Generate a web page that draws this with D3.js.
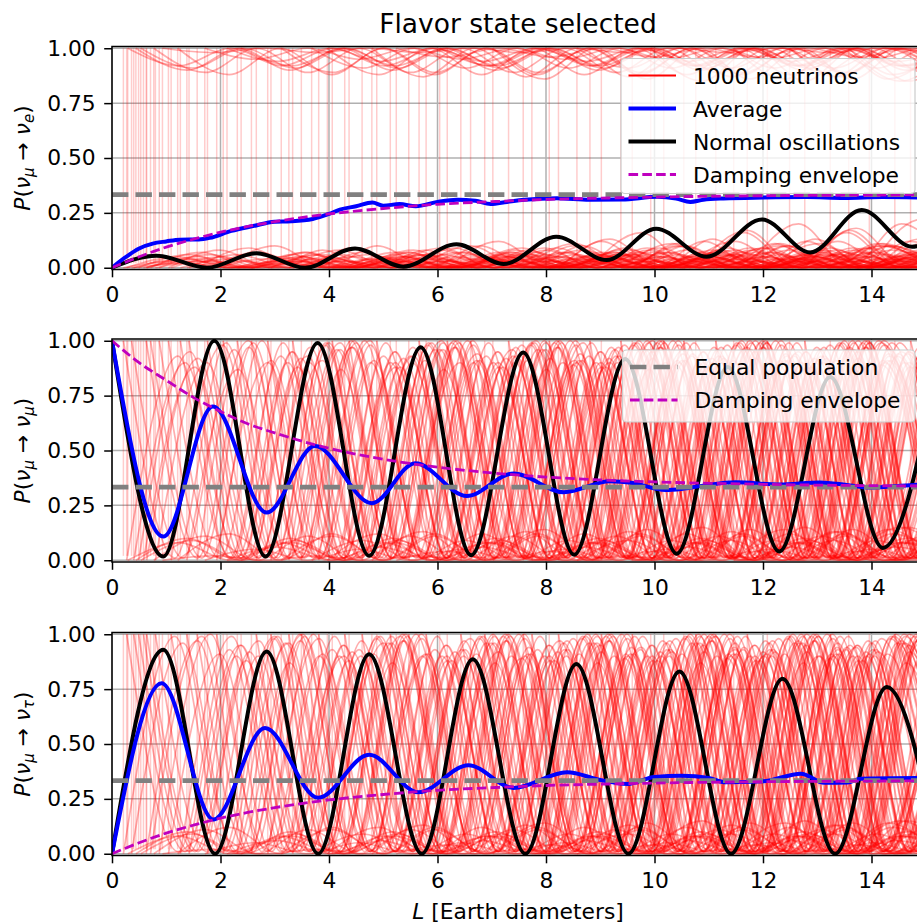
<!DOCTYPE html>
<html>
<head>
<meta charset="utf-8">
<script src="https://cdn.jsdelivr.net/npm/d3@7"></script>
<style>
  body { margin: 0; background: #fff; }
  svg { display: block; font-family: "DejaVu Sans", sans-serif; }
</style>
</head>
<body>
<svg id="chart" width="917" height="923"></svg>
<script>
// ---- data ----
const xTicks = [0, 2, 4, 6, 8, 10, 12, 14];
const yTicks = [0, 0.25, 0.5, 0.75, 1.0];
const equalPopulation = 0.333;
const oscHalf = 0.947;          // half period of the oscillation (L units)
const meshTrough = 0.01;

// normal (undamped) oscillations: peaks and troughs
const normalE = [[0,0],[0.82,0.055],[1.75,0.0],[2.66,0.066],[3.56,0.0],[4.48,0.088],[5.37,0.005],[6.35,0.107],[7.22,0.017],[8.19,0.141],[9.12,0.035],[10.03,0.178],[10.96,0.05],[11.98,0.22],[12.87,0.07],[13.82,0.263],[14.75,0.096],[15.7,0.3]];
const normalM = [[0,1],[0.946,0.017],[1.886,1.0],[2.83,0.017],[3.79,0.99],[4.74,0.02],[5.69,0.97],[6.62,0.023],[7.58,0.947],[8.52,0.025],[9.46,0.917],[10.41,0.03],[11.35,0.88],[12.3,0.04],[13.24,0.835],[14.21,0.056],[15.16,0.8]];
const normalT = [[0,0],[0.946,0.929],[1.9,0],[2.85,0.921],[3.8,0],[4.74,0.909],[5.71,0],[6.65,0.886],[7.62,0],[8.56,0.864],[9.52,0],[10.46,0.83],[11.41,0],[12.36,0.797],[13.33,0],[14.28,0.76],[15.23,0]];

// average over the neutrinos
const averageE = [[0,0],[0.25,0.048],[0.5,0.088],[0.75,0.11],[1,0.12],[1.25,0.128],[1.6,0.129],[1.8,0.136],[2.2,0.168],[2.6,0.19],[3,0.21],[3.3,0.212],[3.7,0.222],[4,0.245],[4.2,0.265],[4.5,0.28],[4.8,0.297],[5,0.283],[5.3,0.29],[5.6,0.28],[6,0.3],[6.36,0.31],[6.7,0.305],[6.98,0.29],[7.28,0.3],[7.6,0.31],[8.2,0.317],[8.8,0.31],[9.4,0.311],[10.05,0.323],[10.4,0.315],[10.66,0.3],[10.9,0.31],[11.27,0.316],[12,0.32],[12.8,0.322],[13.5,0.318],[14.2,0.322],[15,0.32]];
const averageM = [[0,1],[0.946,0.108],[1.86,0.70],[2.85,0.217],[3.74,0.521],[4.79,0.26],[5.59,0.442],[6.54,0.293],[7.4,0.395],[8.33,0.31],[9.18,0.36],[9.6,0.352],[10.2,0.32],[10.5,0.325],[10.9,0.34],[11.5,0.355],[12.3,0.345],[13.05,0.354],[13.54,0.343],[13.97,0.331],[14.77,0.343],[15,0.345]];
const averageT = [[0,0],[0.915,0.777],[1.87,0.156],[2.82,0.573],[3.8,0.255],[4.74,0.451],[5.65,0.28],[6.57,0.403],[7.4,0.30],[8.39,0.371],[9.0,0.336],[9.5,0.318],[10.0,0.35],[10.5,0.355],[11.0,0.345],[11.3,0.326],[12.0,0.33],[12.7,0.365],[13.13,0.323],[13.56,0.325],[13.8,0.342],[15,0.345]];

// damping envelopes
const envelopeRise = [[0,0],[0.5,0.05],[1,0.094],[1.5,0.13],[2,0.162],[2.5,0.188],[3,0.21],[4,0.245],[5,0.27],[6,0.289],[7,0.301],[8,0.311],[9,0.317],[10,0.322],[12,0.328],[15,0.332]];
const envelopeDecay = [[0,1],[0.5,0.9],[1,0.82],[1.5,0.742],[2,0.678],[2.5,0.622],[3,0.58],[4,0.51],[5,0.46],[6,0.424],[7,0.398],[8,0.379],[9,0.366],[10,0.357],[12,0.346],[15,0.338]];

// individual neutrinos: where each was collapsed, to which flavor, and its swing
const collapseX = [0.21,0.27,0.29,0.36,0.4,0.44,0.49,0.53,0.58,0.63,0.64,0.71,0.77,0.8,0.87,0.93,1.04,1.09,1.21,1.26,1.38,1.42,1.57,1.71,1.76,1.93,2.05,2.12,2.31,2.38,2.57,2.66,2.87,2.93,3.12,3.26,3.33,3.49,3.68,3.81,3.97,4.06,4.29,4.37,4.61,4.79,4.88,5.13,5.24,5.47,5.66,5.79,6.04,6.18,6.43,6.61,6.87,7.02,7.31,7.58,7.74,8.06,8.23,8.57,8.81,9.02,9.38,9.59,9.93,10.17,10.54,10.76,11.13,11.46,11.71,12.08,12.49,12.77,13.24,13.58,13.96,14.43,14.72];
const collapseTo = ['m','t','e','m','t','e','t','e','t','m', 't','m','e','t','m','e','m','t','e','m', 't','m','t','e','m','t','m','e','m','e', 'm','t','m','t','e','t','m','t','e','t', 'e','m','t','m','t','e','m','t','e','t', 'm','t','e','m','t','m','t','e','m','t', 't','m','t','e','m','t','m','t','e','m', 'm','t','m','e','t','m','e','m','t','e', 'm','t','m'];
const trackPeak = [0.99,0.93,1.0,0.96,0.9,0.98,0.95,1.0,0.88,0.97, 0.92,0.99,0.94,0.9,1.0,0.96,0.91,0.98,0.93,0.99, 0.87,0.95,1.0,0.92,0.97,0.9,0.99,0.94,0.96,0.89, 1.0,0.93,0.98,0.91,0.95,0.99,0.9,0.97,0.94,1.0, 0.92,0.96,0.88,0.99,0.93,0.97,0.91,1.0,0.95,0.9, 0.98,0.94,0.99,0.92,0.96,0.89,1.0,0.93,0.97,0.91, 0.99,0.95,0.9,0.98,0.94,1.0,0.92,0.96,0.88,0.99, 0.93,0.97,0.91,1.0,0.95,0.9,0.98,0.94,0.99,0.92, 0.96,0.9,1.0];
const trackSmall = [0.03,0.05,0.08,0.02,0.04,0.1,0.06,0.09,0.03,0.05, 0.04,0.07,0.11,0.03,0.06,0.02,0.08,0.05,0.12,0.04, 0.06,0.03,0.09,0.05,0.07,0.04,0.1,0.06,0.03,0.08, 0.05,0.07,0.04,0.06,0.11,0.08,0.03,0.05,0.09,0.06, 0.12,0.04,0.07,0.05,0.08,0.13,0.06,0.09,0.04,0.07, 0.1,0.05,0.08,0.12,0.06,0.09,0.07,0.14,0.05,0.11, 0.08,0.06,0.13,0.09,0.16,0.07,0.11,0.1,0.15,0.08, 0.12,0.17,0.09,0.14,0.2,0.11,0.13,0.18,0.1,0.15, 0.22,0.12,0.16];

// ---- layout ----
const svg = d3.select('#chart');
const FONT = 21.8;
const x = d3.scaleLinear().domain([0, 15]).range([112, 925.75]);
const panelTop = [46.5, 339, 632.5];
const panelH = 223;
const defs = svg.append('defs');

const line = (y) => d3.line()
    .x(d => x(d[0]))
    .y(d => y(d[1]))
    .curve(d3.curveMonotoneX);

// alternate between two levels every half period, starting from a collapse
function track(start, initial, even, odd) {
    const pts = [[start, initial]];
    let k = 1;
    for (let xx = start + oscHalf; xx < 16; xx += oscHalf, k++) {
        pts.push([xx, k % 2 ? odd : even]);
    }
    return pts;
}

// each panel: what a collapse into a given flavor looks like
function levels(panel, f, i) {
    const pk = trackPeak[i], sm = trackSmall[i];
    if (panel === 'e') {
        return f === 'e' ? [1, 1, 1 - sm] : [0, 0, sm];
    }
    if (f === 'e') return [0, 0, sm];
    if (panel === 'm') {
        return f === 'm' ? [1, pk, meshTrough] : [0, meshTrough, pk];
    }
    return f === 't' ? [1, pk, meshTrough] : [0, meshTrough, pk];
}

const panels = [
    { key: 'e', sub: 'e', normal: normalE, average: averageE, envelope: envelopeRise,
      legend: [
        { label: '1000 neutrinos', color: '#ff0000', width: 2.2 },
        { label: 'Average', color: '#0000ff', width: 4.2 },
        { label: 'Normal oscillations', color: '#000000', width: 4.2 },
        { label: 'Damping envelope', color: '#bf00bf', width: 2.8, dash: '9.6,4.2' }
      ], legendBox: [621, 58.5, 294, 135] },
    { key: 'm', sub: 'μ', normal: normalM, average: averageM, envelope: envelopeDecay,
      legend: [
        { label: 'Equal population', color: '#808080', width: 4.6, dash: '16.4,7.1' },
        { label: 'Damping envelope', color: '#bf00bf', width: 2.8, dash: '9.6,4.2' }
      ], legendBox: [622.5, 350, 292.5, 72] },
    { key: 't', sub: 'τ', normal: normalT, average: averageT, envelope: envelopeRise,
      legend: null }
];

panels.forEach((p, i) => drawPanel(p, i));

svg.append('text')
    .attr('x', 518).attr('y', 33.3)
    .attr('text-anchor', 'middle')
    .attr('font-size', 26.5)
    .text('Flavor state selected');

const xl = svg.append('text')
    .attr('x', 518).attr('y', 919)
    .attr('text-anchor', 'middle')
    .attr('font-size', FONT);
xl.append('tspan').attr('font-style', 'italic').text('L');
xl.append('tspan').text(' [Earth diameters]');

function drawPanel(p, i) {
    const top = panelTop[i];
    const bottom = top + panelH;
    const y = d3.scaleLinear().domain([-0.008, 1.008]).range([bottom, top]);
    const g = svg.append('g');

    defs.append('clipPath').attr('id', 'clip' + i)
        .append('rect')
        .attr('x', x(0)).attr('y', top)
        .attr('width', x(15) - x(0)).attr('height', panelH);

    // grid
    const grid = g.append('g').attr('stroke', '#b0b0b0').attr('stroke-width', 1.5);
    grid.selectAll('.gx').data(xTicks).enter().append('line')
        .attr('x1', d => x(d)).attr('x2', d => x(d))
        .attr('y1', top).attr('y2', bottom);
    grid.selectAll('.gy').data(yTicks).enter().append('line')
        .attr('x1', x(0)).attr('x2', x(15))
        .attr('y1', d => y(d)).attr('y2', d => y(d));

    const plot = g.append('g').attr('clip-path', `url(#clip${i})`);

    // individual neutrinos
    const tracks = collapseX.map((cx, k) => {
        const [init, even, odd] = levels(p.key, collapseTo[k], k);
        return track(cx, init, even, odd);
    });
    const red = plot.append('g')
        .attr('fill', 'none')
        .attr('stroke', '#ff0000');
    red.selectAll('path').data(tracks).enter().append('path')
        .attr('stroke-opacity', 0.32)
        .attr('stroke-width', 1.7)
        .attr('d', line(y));
    red.selectAll('line').data(collapseX).enter().append('line')
        .attr('x1', d => x(d)).attr('x2', d => x(d))
        .attr('y1', y(0.02)).attr('y2', y(1))
        .attr('stroke-opacity', 0.2)
        .attr('stroke-width', 1.5);

    // normal oscillations
    plot.append('path').datum(p.normal)
        .attr('fill', 'none').attr('stroke', '#000').attr('stroke-width', 4)
        .attr('d', line(y));

    // average
    plot.append('path').datum(p.average)
        .attr('fill', 'none').attr('stroke', '#0000ff').attr('stroke-width', 4)
        .attr('stroke-linejoin', 'round')
        .attr('d', line(y));

    // equal population
    plot.append('line')
        .attr('x1', x(0)).attr('x2', x(15))
        .attr('y1', y(equalPopulation)).attr('y2', y(equalPopulation))
        .attr('stroke', '#808080').attr('stroke-width', 4.6)
        .attr('stroke-dasharray', '16.4,7.1');

    // damping envelope
    plot.append('path').datum(p.envelope)
        .attr('fill', 'none').attr('stroke', '#bf00bf').attr('stroke-width', 2.8)
        .attr('stroke-dasharray', '9.6,4.2')
        .attr('d', line(y));

    // frame
    g.append('rect')
        .attr('x', x(0)).attr('y', top)
        .attr('width', x(15) - x(0)).attr('height', panelH)
        .attr('fill', 'none').attr('stroke', '#000').attr('stroke-width', 1.5);

    // axes
    const ax = g.append('g').attr('transform', `translate(0,${bottom})`)
        .call(d3.axisBottom(x).tickValues(xTicks).tickSize(7.8).tickPadding(9.5));
    const ay = g.append('g').attr('transform', `translate(${x(0)},0)`)
        .call(d3.axisLeft(y).tickValues(yTicks).tickFormat(d3.format('.2f')).tickSize(7.8).tickPadding(8.5));
    [ax, ay].forEach(a => {
        a.select('.domain').remove();
        a.selectAll('line').attr('stroke', '#000').attr('stroke-width', 1.5);
        a.selectAll('text').attr('font-size', FONT).attr('fill', '#000')
            .attr('font-family', '"DejaVu Sans", sans-serif');
    });

    // y label
    const yl = g.append('text')
        .attr('transform', `translate(30,${top + panelH / 2}) rotate(-90)`)
        .attr('text-anchor', 'middle')
        .attr('font-size', FONT);
    yl.append('tspan').attr('font-style', 'italic').text('P');
    yl.append('tspan').text('(');
    yl.append('tspan').attr('font-style', 'italic').text('ν');
    yl.append('tspan').attr('font-style', 'italic').attr('font-size', 15).attr('dy', 4).text('μ');
    yl.append('tspan').attr('dy', -4).text(' → ');
    yl.append('tspan').attr('font-style', 'italic').text('ν');
    yl.append('tspan').attr('font-style', 'italic').attr('font-size', 15).attr('dy', 4).text(p.sub);
    yl.append('tspan').attr('dy', -4).text(')');

    if (p.legend) drawLegend(p.legend, p.legendBox);
}

function drawLegend(items, box) {
    const [bx, by, bw, bh] = box;
    const lg = svg.append('g');
    lg.append('rect')
        .attr('x', bx).attr('y', by).attr('width', bw).attr('height', bh)
        .attr('rx', 4)
        .attr('fill', '#fff').attr('fill-opacity', 0.8)
        .attr('stroke', '#cccccc').attr('stroke-width', 1.2);
    items.forEach((it, k) => {
        const cy = by + 17 + k * 33;
        lg.append('line')
            .attr('x1', bx + 7.5).attr('x2', bx + 55)
            .attr('y1', cy).attr('y2', cy)
            .attr('stroke', it.color).attr('stroke-width', it.width)
            .attr('stroke-dasharray', it.dash || null);
        lg.append('text')
            .attr('x', bx + 72).attr('y', cy + 8)
            .attr('font-size', FONT)
            .text(it.label);
    });
}
</script>
</body>
</html>
